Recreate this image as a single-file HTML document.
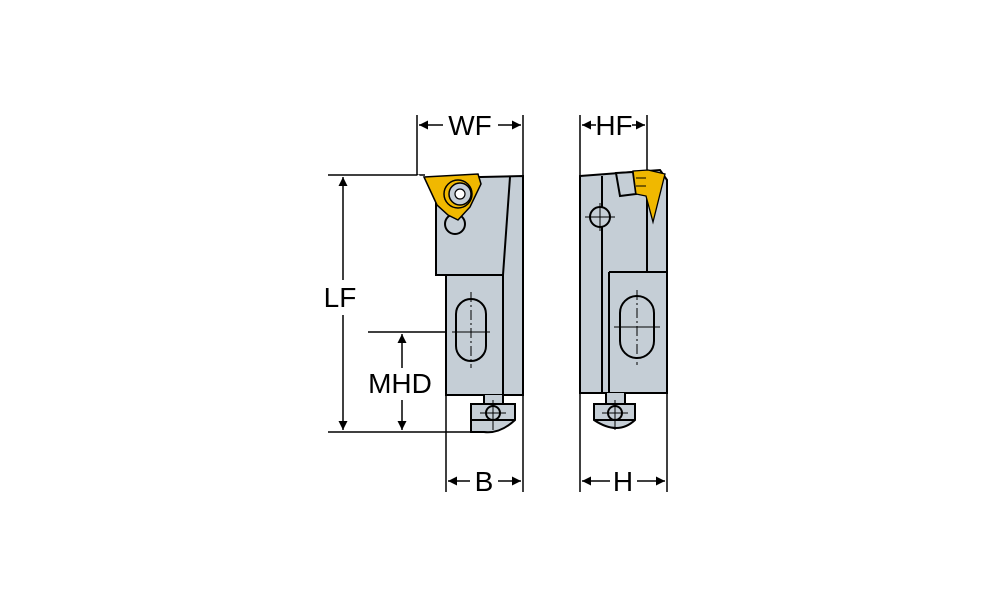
<!DOCTYPE html>
<html><head><style>body{margin:0;background:#fff}svg{display:block}text{font-family:"Liberation Sans",sans-serif;font-size:28px;fill:#000}</style></head>
<body>
<svg width="1000" height="611" viewBox="0 0 1000 611" xmlns="http://www.w3.org/2000/svg">
<defs>
<marker id="a" viewBox="0 0 10 10" refX="10" refY="5" markerWidth="17" markerHeight="9" orient="auto-start-reverse" markerUnits="userSpaceOnUse"><path d="M0,0L10,5L0,10z" fill="#000"/></marker>
</defs>
<g stroke="#000" stroke-width="1.5" fill="none">
<line x1="417" y1="115" x2="417" y2="175"/>
<line x1="523" y1="115" x2="523" y2="492"/>
<line x1="580" y1="115" x2="580" y2="492"/>
<line x1="647" y1="115" x2="647" y2="172"/>
<line x1="446" y1="395" x2="446" y2="492"/>
<line x1="667" y1="200" x2="667" y2="492"/>
<line x1="328" y1="175" x2="425" y2="175"/>
<line x1="328" y1="432" x2="488" y2="432"/>
<line x1="368" y1="332" x2="490" y2="332"/>
<line x1="419" y1="125" x2="443" y2="125" marker-start="url(#a)"/>
<line x1="498" y1="125" x2="521" y2="125" marker-end="url(#a)"/>
<line x1="582" y1="125" x2="596" y2="125" marker-start="url(#a)"/>
<line x1="632" y1="125" x2="645" y2="125" marker-end="url(#a)"/>
<line x1="343" y1="177" x2="343" y2="280" marker-start="url(#a)"/>
<line x1="343" y1="315" x2="343" y2="430" marker-end="url(#a)"/>
<line x1="402" y1="334" x2="402" y2="368" marker-start="url(#a)"/>
<line x1="402" y1="400" x2="402" y2="430" marker-end="url(#a)"/>
<line x1="448" y1="481" x2="470" y2="481" marker-start="url(#a)"/>
<line x1="498" y1="481" x2="521" y2="481" marker-end="url(#a)"/>
<line x1="582" y1="481" x2="610" y2="481" marker-start="url(#a)"/>
<line x1="637" y1="481" x2="665" y2="481" marker-end="url(#a)"/>
</g>
<text x="470" y="135" text-anchor="middle">WF</text>
<text x="614" y="135" text-anchor="middle">HF</text>
<text x="340" y="307" text-anchor="middle">LF</text>
<text x="400" y="393" text-anchor="middle">MHD</text>
<text x="484" y="491" text-anchor="middle">B</text>
<text x="623" y="491" text-anchor="middle">H</text>

<g stroke="#000" stroke-width="2" fill="#c5ced6">
<path d="M436,178 L523,176 L523,395 L446,395 L446,275 L436,275 Z"/>
<path d="M510,177 L503,275 L503,395" fill="none"/>
<path d="M436,275 L503,275" fill="none"/>
<circle cx="455" cy="224" r="10"/>
<rect x="456" y="299" width="30" height="62" rx="15"/>
<path d="M484,395 L484,404 L503,404 L503,395"/>
<path d="M471,404 L515,404 L515,420 Q500,434 484,432 L471,432 Z"/>
<path d="M471,420 L515,420" fill="none"/>
<circle cx="493" cy="413" r="7" fill="none"/>
</g>
<g stroke="#000" stroke-width="1" fill="none">
<line x1="471" y1="292" x2="471" y2="368" stroke-dasharray="10,3,2,3"/>
<line x1="452" y1="332" x2="490" y2="332"/>
<line x1="493" y1="400" x2="493" y2="430"/>
<line x1="480" y1="413" x2="506" y2="413"/>
</g>
<path d="M424,177 L478,174 L481,184 L470,207 L458,220 L448,215 L437,205 Z" fill="#f0b800" stroke="#000" stroke-width="1.5"/>
<path d="M418,175 L430,195" stroke="#fff" stroke-width="2"/>
<circle cx="458" cy="194" r="14" fill="#f0b800" stroke="#000" stroke-width="1.5"/>
<circle cx="460" cy="194" r="11" fill="#c5ced6" stroke="#000" stroke-width="1.5"/>
<circle cx="460" cy="194" r="5" fill="#fff" stroke="#000" stroke-width="1.2"/>

<g stroke="#000" stroke-width="2" fill="#c5ced6">
<path d="M580,176 L660,170 L667,180 L667,393 L580,393 Z"/>
<path d="M602,176 L602,393 M609,272 L609,393 M647,172 L647,272 M609,272 L667,272" fill="none"/>
<path d="M616,173 L633,172 L636,194 L620,196 Z"/>
<circle cx="600" cy="217" r="10"/>
<rect x="620" y="296" width="34" height="62" rx="17"/>
<path d="M606,393 L606,404 L625,404 L625,393"/>
<path d="M594,404 L635,404 L635,420 Q618,436 594,420 Z"/>
<path d="M594,420 L635,420" fill="none"/>
<circle cx="615" cy="413" r="7" fill="none"/>
</g>
<g stroke="#000" stroke-width="1" fill="none">
<line x1="585" y1="217" x2="615" y2="217"/>
<line x1="600" y1="203" x2="600" y2="231"/>
<line x1="637" y1="290" x2="637" y2="365" stroke-dasharray="10,3,2,3"/>
<line x1="614" y1="327" x2="660" y2="327"/>
<line x1="615" y1="400" x2="615" y2="430"/>
<line x1="602" y1="413" x2="628" y2="413"/>
</g>
<path d="M633,171 L648,170 L665,174 L653,222 L646,196 L636,194 Z" fill="#f0b800" stroke="#000" stroke-width="1.3"/>
<path d="M636,178 L646,178 M636,186 L646,186" stroke="#000" stroke-width="1"/>
</svg>
</body></html>
